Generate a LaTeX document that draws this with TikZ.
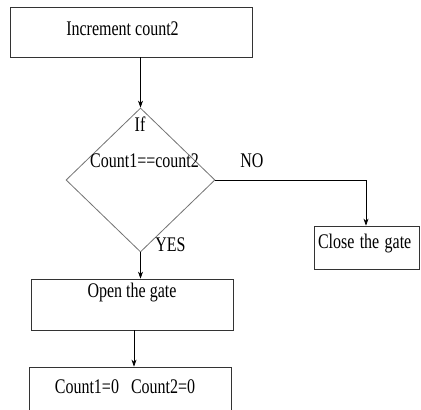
\documentclass[tikz,border=0pt]{standalone}
\usepackage{fontspec}
\usepackage{graphicx}
\setmainfont{Liberation Serif}
\usetikzlibrary{shapes.geometric,arrows.meta}

\newcommand{\tall}[1]{\scalebox{1}[1.3]{#1}}

\tikzset{
  stepbox/.style={draw=black!80,line width=0.8pt,inner ysep=0pt,font=\fontsize{16}{19}\selectfont},
  decision/.style={diamond,draw=black!55,line width=0.8pt,inner sep=0pt,minimum width=149pt,minimum height=144pt},
  txt/.style={anchor=base,inner sep=0pt,font=\fontsize{16}{19}\selectfont},
  flow/.style={-{Stealth[length=7pt,width=5pt]},line width=0.6pt}
}

\begin{document}
\begin{tikzpicture}[x=1pt,y=-1pt]
  \useasboundingbox (0,0) rectangle (421,410);
  % boxes
  \node[stepbox,minimum width=242pt,text height=28pt,text depth=22pt] (inc) at (131,32) {\tall{Increment count2}\hspace*{17pt}};
  \node[decision] (cond) at (140.5,180) {};
  \node[stepbox,minimum width=202pt,text height=18pt,text depth=33pt] (open) at (132,304.5) {\tall{Open the gate}};
  \node[stepbox,minimum width=202pt,text height=26pt,text depth=24pt] (fin) at (130,392) {\tall{Count1=0~~~Count2=0}\hspace*{10pt}};
  \node[stepbox,text width=97pt,inner xsep=4pt,align=left,text height=22pt,text depth=21pt] (close) at (366.5,247.5) {\tall{Close the gate}};
  % texts of the decision
  \node[txt] (condif) at (140,131) {\tall{If}};
  \node[txt] (condtxt) at (144.5,167) {\tall{Count1==count2}};
  \node[txt] (no) at (252,167) {\tall{NO}};
  \node[txt] (yes) at (170.5,251) {\tall{YES}};
  % connectors
  \coordinate (turn) at (366,180);
  \draw[flow] (inc.south -| cond.north) -- (cond.north);
  \draw[line width=0.6pt] (cond.east) -- (turn);
  \draw[flow] (turn) -- (turn |- close.north);
  \draw[flow] (cond.south) -- (cond.south |- open.north);
  \draw[flow] ([xshift=2pt]open.south) -- ([xshift=2pt]open.south |- fin.north);
\end{tikzpicture}
\end{document}
